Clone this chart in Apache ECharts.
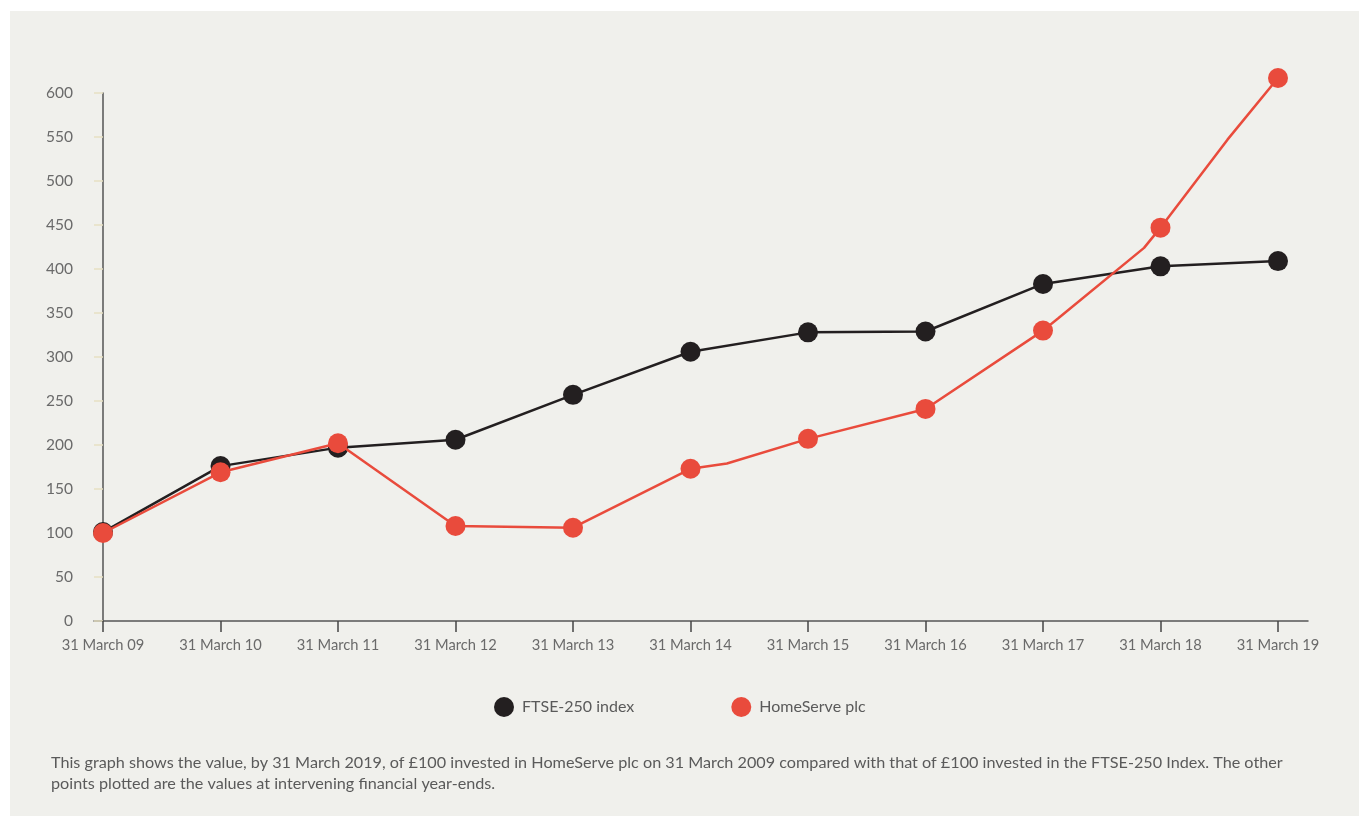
<!DOCTYPE html>
<html>
<head>
<meta charset="utf-8">
<script src="https://cdn.jsdelivr.net/npm/echarts@6/dist/echarts.min.js"></script>
<style>
html,body{margin:0;padding:0;background:#fff;}
#chart{width:1359px;height:816px;}
</style>
</head>
<body>
<div id="chart"></div>
<script>
// ---- data ----
const categories = ['31 March 09','31 March 10','31 March 11','31 March 12','31 March 13','31 March 14','31 March 15','31 March 16','31 March 17','31 March 18','31 March 19'];
const ftseValues = [101, 176, 197, 206, 257, 306, 328, 329, 383, 403, 409];
const homeServeValues = [100, 169, 202, 108, 106, 173, 207, 241, 330, 447, 617];
// extra vertices of the HomeServe line (position between year-ends, value)
const homeServeKinkPos = [5.31, 8.13, 8.86, 9.57];
const homeServeKinkValues = [179, 344, 424, 547];
const yTicks = [0, 600, 50];
const seriesNames = ['FTSE-250 index', 'HomeServe plc'];
const footnote = 'This graph shows the value, by 31 March 2019, of £100 invested in HomeServe plc on 31 March 2009 compared with that of £100 invested in the FTSE-250 Index. The other\npoints plotted are the values at intervening financial year-ends.';

// ---- build ----
const idx = categories.map((c, i) => i);
const ftseData = ftseValues.map((v, i) => [i, v]);
const hsPts = homeServeValues.map((v, i) => ({ value: [i, v] }));
homeServeKinkPos.forEach((p, k) => hsPts.push({ value: [p, homeServeKinkValues[k]], symbol: 'none' }));
hsPts.sort((a, b) => a.value[0] - b.value[0]);

const BLACK = '#231f20', RED = '#e94b3c', TXT = '#6a6a6a';
const FONT = 'Lato';

const chart = echarts.init(document.getElementById('chart'), null, { renderer: 'canvas' });
chart.setOption({
  backgroundColor: '#ffffff',
  animation: false,
  textStyle: { fontFamily: FONT },
  graphic: [
    { type: 'rect', z: -10, shape: { x: 10, y: 11, width: 1349, height: 805 }, style: { fill: '#f0f0ec' } },
    { type: 'text', left: 51, top: 752, style: { text: footnote, fill: '#5a5a5a', font: '16.2px Lato', lineHeight: 21 } }
  ],
  legend: {
    data: seriesNames,
    left: 489, top: 692,
    icon: 'circle', itemWidth: 20, itemHeight: 20, itemGap: 97,
    textStyle: { color: '#5a5a5a', fontSize: 16, fontFamily: FONT, padding: [0, 0, 0, 3] }
  },
  grid: { left: 94, right: 51, top: 93, bottom: 195 },
  xAxis: {
    type: 'value',
    min: -9 / 117.5, max: 10 + 30 / 117.5,
    splitLine: { show: false },
    axisLine: { show: true, onZero: true, lineStyle: { color: '#555', width: 1.5 } },
    axisTick: { show: true, customValues: idx, length: 11, lineStyle: { color: '#444', width: 1.5 } },
    axisLabel: { customValues: idx, formatter: v => categories[Math.round(v)], color: TXT, fontSize: 14.7, margin: 17 }
  },
  yAxis: {
    type: 'value',
    min: yTicks[0], max: yTicks[1], interval: yTicks[2],
    splitLine: { show: false },
    axisLine: { show: true, onZero: true, lineStyle: { color: '#555', width: 1.5 } },
    axisTick: { show: true, length: 9, lineStyle: { color: '#e6dfc2', width: 1.5 } },
    axisLabel: { color: TXT, fontSize: 15.5, margin: 21 }
  },
  series: [
    {
      name: seriesNames[0], type: 'line', data: ftseData, clip: false,
      symbol: 'circle', symbolSize: 20, showAllSymbol: true,
      itemStyle: { color: BLACK }, lineStyle: { color: BLACK, width: 2.5 }, z: 2
    },
    {
      name: seriesNames[1], type: 'line', data: hsPts, clip: false,
      symbol: 'circle', symbolSize: 20, showAllSymbol: true,
      itemStyle: { color: RED }, lineStyle: { color: RED, width: 2.5 }, z: 3
    }
  ]
});
</script>
</body>
</html>
